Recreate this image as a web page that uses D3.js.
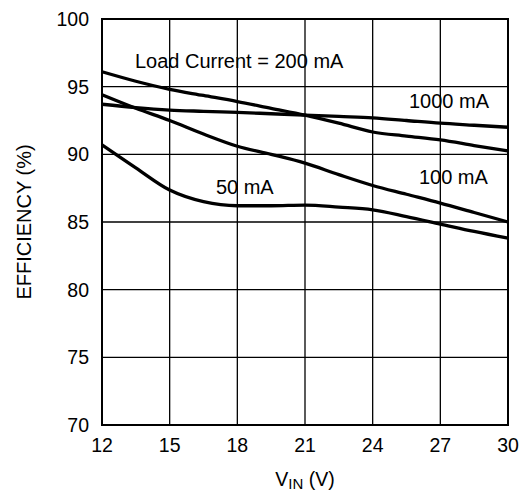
<!DOCTYPE html>
<html>
<head>
<meta charset="utf-8">
<script src="https://cdn.jsdelivr.net/npm/d3@7"></script>
<style>
  body { margin: 0; background: #fff; }
  text { font-family: "Liberation Sans", Arial, sans-serif; fill: #000; }
</style>
</head>
<body>
<div id="graph"></div>
<script>
var width = 521;
var height = 499;

// efficiency (%) vs input voltage (V)
var vin = [12, 13.5, 15, 16.5, 18, 19.5, 21, 22.5, 24, 25.5, 27, 28.5, 30];
var eff1000 = [93.7, 93.45, 93.27, 93.18, 93.1, 93.0, 92.9, 92.8, 92.7, 92.5, 92.3, 92.15, 92.0];
var eff200 = [96.1, 95.4, 94.8, 94.35, 93.9, 93.4, 92.9, 92.3, 91.65, 91.35, 91.06, 90.65, 90.25];
var eff100 = [94.4, 93.4, 92.5, 91.5, 90.6, 90.0, 89.35, 88.5, 87.7, 87.05, 86.4, 85.7, 85.0];
var eff50 = [90.7, 89.0, 87.36, 86.5, 86.2, 86.2, 86.25, 86.1, 85.9, 85.4, 84.85, 84.3, 83.8];

var xTicks = [12, 15, 18, 21, 24, 27, 30];
var yTicks = [70, 75, 80, 85, 90, 95, 100];

var margin = {top: 19, right: 13, bottom: 74, left: 102};
var w = width - margin.left - margin.right;
var h = height - margin.top - margin.bottom;

var svg = d3.select('#graph')
    .append('svg')
    .attr('width', width)
    .attr('height', height);

var g = svg.append('g')
    .attr('transform', 'translate(' + margin.left + ',' + margin.top + ')');

var x = d3.scaleLinear().domain([12, 30]).range([0, w]);
var y = d3.scaleLinear().domain([70, 100]).range([h, 0]);

// grid
g.selectAll('.vgrid')
    .data(xTicks)
    .enter()
    .append('line')
    .attr('x1', function(d) { return x(d); })
    .attr('x2', function(d) { return x(d); })
    .attr('y1', 0)
    .attr('y2', h)
    .attr('stroke', '#000')
    .attr('stroke-width', 1.3);

g.selectAll('.hgrid')
    .data(yTicks)
    .enter()
    .append('line')
    .attr('x1', 0)
    .attr('x2', w)
    .attr('y1', function(d) { return y(d); })
    .attr('y2', function(d) { return y(d); })
    .attr('stroke', '#000')
    .attr('stroke-width', 1.3);

g.append('rect')
    .attr('width', w)
    .attr('height', h)
    .attr('fill', 'none')
    .attr('stroke', '#000')
    .attr('stroke-width', 2);

// tick labels
g.selectAll('.ylab')
    .data(yTicks)
    .enter()
    .append('text')
    .attr('x', -13)
    .attr('y', function(d) { return y(d) + 7; })
    .attr('text-anchor', 'end')
    .style('font-size', '19.5px')
    .text(function(d) { return d; });

g.selectAll('.xlab')
    .data(xTicks)
    .enter()
    .append('text')
    .attr('x', function(d) { return x(d); })
    .attr('y', h + 27)
    .attr('text-anchor', 'middle')
    .style('font-size', '19.5px')
    .text(function(d) { return d; });

// curves
var line = d3.line()
    .x(function(d, i) { return x(vin[i]); })
    .y(function(d) { return y(d); })
    .curve(d3.curveMonotoneX);

[eff1000, eff200, eff100, eff50].forEach(function(s) {
    g.append('path')
        .attr('d', line(s))
        .attr('fill', 'none')
        .attr('stroke', '#000')
        .attr('stroke-width', 3.3);
});

// curve labels
var labels = [
    {t: 'Load Current = 200 mA', v: 13.46, e: 96.38},
    {t: '1000 mA', v: 25.61, e: 93.42},
    {t: '100 mA', v: 26.05, e: 87.8},
    {t: '50 mA', v: 17.05, e: 87.07}
];
g.selectAll('.clab')
    .data(labels)
    .enter()
    .append('text')
    .attr('x', function(d) { return x(d.v); })
    .attr('y', function(d) { return y(d.e); })
    .style('font-size', '20px')
    .text(function(d) { return d.t; });

// axis titles
svg.append('text')
    .attr('transform', 'translate(31,' + (margin.top + h / 2) + ') rotate(-90)')
    .attr('text-anchor', 'middle')
    .style('font-size', '20px')
    .text('EFFICIENCY (%)');

var xt = svg.append('text')
    .attr('x', margin.left + w / 2)
    .attr('y', 486)
    .attr('text-anchor', 'middle')
    .style('font-size', '19.5px');
xt.append('tspan').text('V');
xt.append('tspan').attr('dy', 3).style('font-size', '15px').text('IN');
xt.append('tspan').attr('dy', -3).text(' (V)');
</script>
</body>
</html>
